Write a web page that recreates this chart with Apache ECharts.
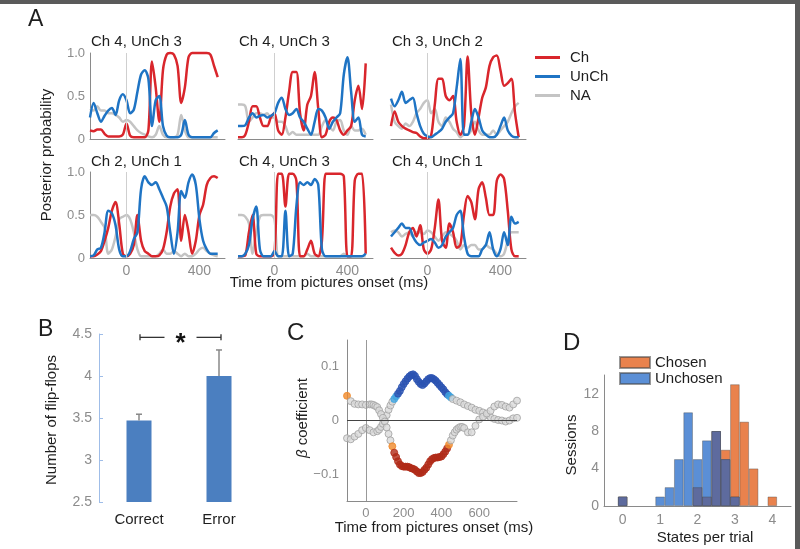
<!DOCTYPE html>
<html><head><meta charset="utf-8">
<script src="https://cdn.jsdelivr.net/npm/echarts@6/dist/echarts.min.js"></script>
<style>html,body{margin:0;padding:0;background:#fff}#c{width:800px;height:549px}</style>
</head><body><div id="c"></div>
<script>
// ---------- Panel A data ----------
const timeA = [-200,-180,-160,-140,-120,-100,-80,-60,-40,-20,0,20,40,60,80,100,120,140,160,180,200,220,240,260,280,300,320,340,360,380,400,420,440,460,480,500];
const titlesA = ['Ch 4, UnCh 3','Ch 4, UnCh 3','Ch 3, UnCh 2','Ch 2, UnCh 1','Ch 4, UnCh 3','Ch 4, UnCh 1'];
const ch1 = [0.10,0.09,0.11,0.11,0.06,0.03,0.03,0.03,0.03,0.05,0.18,0.04,0.02,0.02,0.02,0.02,0.10,0.90,0.60,0.20,0.80,0.98,1.00,0.98,0.85,0.42,0.60,0.95,1.00,1.00,1.00,1.00,1.00,0.98,0.85,0.72];
const un1 = [0.25,0.42,0.30,0.20,0.27,0.33,0.36,0.28,0.45,0.52,0.45,0.30,0.34,0.55,0.75,0.80,0.70,0.15,0.45,0.50,0.15,0.04,0.02,0.02,0.02,0.05,0.22,0.05,0.02,0.02,0.02,0.02,0.02,0.02,0.07,0.10];
const na1 = [0.35,0.33,0.38,0.33,0.33,0.30,0.30,0.28,0.25,0.20,0.22,0.20,0.15,0.10,0.07,0.05,0.03,0.02,0.05,0.15,0.05,0.02,0.02,0.02,0.05,0.28,0.10,0.02,0.02,0.02,0.02,0.02,0.02,0.02,0.02,0.02];
const ch2 = [0.02,0.02,0.05,0.20,0.38,0.38,0.25,0.15,0.15,0.25,0.30,0.10,0.05,0.25,0.55,0.78,0.78,0.30,0.10,0.40,0.50,0.78,0.35,0.02,0.05,0.20,0.25,0.22,0.10,0.05,0.10,0.15,0.45,0.62,0.35,0.88];
const un2 = [0.15,0.15,0.16,0.25,0.30,0.25,0.27,0.28,0.25,0.27,0.30,0.42,0.48,0.35,0.28,0.30,0.35,0.25,0.20,0.12,0.05,0.20,0.35,0.33,0.25,0.12,0.20,0.25,0.30,0.75,0.95,0.55,0.20,0.25,0.05,0.03];
const na2 = [0.40,0.40,0.38,0.20,0.25,0.30,0.30,0.28,0.30,0.25,0.25,0.20,0.20,0.15,0.05,0.08,0.05,0.05,0.05,0.05,0.05,0.05,0.05,0.15,0.22,0.15,0.10,0.20,0.22,0.10,0.05,0.15,0.10,0.10,0.12,0.05];
const ch3 = [0.15,0.32,0.20,0.15,0.12,0.10,0.08,0.07,0.03,0.01,0.01,0.04,0.40,0.70,0.70,0.50,0.45,0.50,0.20,0.05,0.15,0.96,0.30,0.05,0.25,0.48,0.60,0.85,0.95,0.97,0.80,0.62,0.65,0.70,0.30,0.02];
const un3 = [0.47,0.38,0.45,0.55,0.42,0.45,0.48,0.30,0.15,0.06,0.03,0.02,0.05,0.08,0.12,0.20,0.25,0.30,0.60,0.93,0.05,0.05,0.20,0.35,0.25,0.10,0.05,0.02,0.02,0.05,0.15,0.25,0.10,0.04,0.02,0.02];
const na3 = [0.40,0.20,0.15,0.12,0.18,0.15,0.20,0.30,0.35,0.42,0.45,0.30,0.35,0.20,0.15,0.25,0.20,0.12,0.08,0.02,0.05,0.05,0.10,0.20,0.10,0.05,0.05,0.05,0.10,0.05,0.10,0.15,0.20,0.30,0.38,0.42];
const ch4 = [0.02,0.02,0.04,0.08,0.20,0.35,0.55,0.65,0.40,0.05,0.02,0.05,0.15,0.50,0.20,0.08,0.05,0.02,0.02,0.03,0.10,0.30,0.60,0.75,0.80,0.20,0.50,0.30,0.05,0.20,0.50,0.62,0.85,0.93,0.95,0.93];
const un4 = [0.02,0.03,0.10,0.12,0.30,0.55,0.52,0.38,0.10,0.02,0.02,0.08,0.22,0.30,0.80,0.95,0.88,0.85,0.88,0.80,0.70,0.60,0.30,0.05,0.30,0.78,0.70,0.88,0.97,0.85,0.45,0.20,0.10,0.05,0.05,0.05];
const na4 = [0.50,0.50,0.48,0.42,0.35,0.05,0.10,0.25,0.45,0.48,0.50,0.45,0.30,0.10,0.02,0.02,0.02,0.02,0.02,0.05,0.10,0.05,0.05,0.08,0.05,0.02,0.05,0.02,0.02,0.05,0.10,0.12,0.08,0.05,0.03,0.02];
const ch5 = [0.02,0.02,0.03,0.30,0.50,0.05,0.02,0.02,0.02,0.02,0.05,0.98,0.98,0.60,0.98,0.98,0.90,0.02,0.02,0.10,0.20,0.05,0.02,0.20,0.98,0.98,0.98,0.98,0.98,0.95,0.02,0.02,0.90,0.98,0.98,0.05];
const un5 = [0.02,0.02,0.05,0.15,0.45,0.60,0.10,0.02,0.02,0.02,0.08,0.02,0.02,0.55,0.02,0.05,0.60,0.88,0.85,0.88,0.85,0.92,0.85,0.10,0.02,0.02,0.02,0.02,0.02,0.02,0.02,0.02,0.02,0.02,0.02,0.05];
const na5 = [0.50,0.50,0.48,0.40,0.05,0.30,0.48,0.50,0.50,0.50,0.45,0.02,0.02,0.02,0.02,0.02,0.02,0.02,0.02,0.05,0.02,0.02,0.02,0.02,0.02,0.02,0.02,0.02,0.02,0.05,0.02,0.02,0.02,0.02,0.02,0.02];
const ch6 = [0.12,0.06,0.03,0.05,0.15,0.30,0.35,0.25,0.38,0.10,0.05,0.10,0.35,0.68,0.20,0.12,0.40,0.30,0.12,0.15,0.50,0.72,0.65,0.45,0.80,0.88,0.70,0.50,0.50,0.90,0.97,0.92,0.55,0.10,0.02,0.02];
const un6 = [0.25,0.30,0.35,0.40,0.35,0.35,0.25,0.18,0.15,0.18,0.20,0.22,0.18,0.12,0.15,0.25,0.30,0.35,0.50,0.55,0.25,0.05,0.02,0.02,0.02,0.10,0.15,0.30,0.10,0.02,0.10,0.30,0.15,0.48,0.40,0.42];
const na6 = [0.30,0.32,0.30,0.25,0.28,0.30,0.25,0.30,0.30,0.28,0.32,0.30,0.25,0.20,0.25,0.30,0.28,0.25,0.20,0.10,0.15,0.12,0.15,0.15,0.10,0.10,0.15,0.12,0.10,0.05,0.02,0.05,0.20,0.30,0.30,0.30];

// ---------- Panel B data ----------
const catsB = ['Correct','Error'];
const meanB = [3.47, 4.0];
const semB = [0.075, 0.31];
const sigLevelB = 4.46;

// ---------- Panel C data ----------
const timeC1 = [-100,-80,-60,-40,-20,0,20,40,60,70,80,90,100,110,120,130,140,150,160,170,180,190,200,210,220,230,240,250,260,270,280,290,300,310,320,330,340,350,360,370,380,390,400,410,420,430,440,450,460,480,500,520,540,560,580,600,620,640,660,680,700,720,740,760,780,800];
const beta1 = [-0.033,-0.035,-0.030,-0.025,-0.018,-0.014,-0.018,-0.022,-0.020,
  -0.017,-0.012,-0.006,0.000,0.010,0.020,0.028,0.035,0.040,0.045,0.050,0.055,0.062,0.068,0.073,0.078,0.082,0.085,0.086,0.083,0.077,0.072,0.068,0.066,0.069,0.073,0.077,0.079,0.079,0.077,0.074,0.070,0.066,0.062,0.058,0.053,0.049,0.046,0.043,0.040,
  0.037,0.034,0.030,0.027,0.024,0.020,0.018,0.015,0.010,0.006,0.003,0.001,0.000,-0.002,0.000,0.004,0.005];
const sigStrong1 = [[170, 430]];
const sigWeak1 = [[150, 450]];
const timeC2 = [-100,-80,-60,-40,-20,0,20,30,40,50,60,70,80,90,100,110,120,130,140,150,160,170,180,190,200,210,220,230,240,250,260,270,280,290,300,310,320,330,340,350,360,370,380,390,400,410,420,430,440,450,460,470,480,490,500,510,520,540,560,580,600,620,640,660,680,700,720,740,760,780,800];
const beta2 = [0.046,0.036,0.031,0.030,0.030,0.029,0.030,
  0.030,0.029,0.027,0.025,0.019,0.012,0.005,
  -0.002,-0.013,-0.025,-0.037,-0.048,-0.060,-0.068,-0.076,-0.082,-0.085,
  -0.086,-0.086,-0.086,-0.087,-0.089,-0.090,-0.092,-0.095,-0.098,-0.098,
  -0.096,-0.092,-0.088,-0.082,-0.076,-0.072,-0.070,-0.069,-0.069,-0.068,
  -0.067,-0.063,-0.058,-0.052,-0.045,-0.037,-0.028,-0.022,-0.017,-0.014,
  -0.012,-0.012,-0.014,
  -0.022,-0.022,-0.010,0.002,0.007,0.013,0.018,0.026,0.030,0.029,0.026,0.024,0.030,0.037];
const sigStrong2 = [[150, 430]];
const sigWeak2 = [[-100, -100], [135, 445]];

// ---------- Panel D data ----------
const binCenters = [0,0.25,0.5,0.75,1,1.25,1.5,1.75,2,2.25,2.5,2.75,3,3.25,3.5,3.75,4];
const chosenCounts = [1,0,0,0,0,0,0,0,2,1,8,6,13,9,4,0,1];
const unchosenCounts = [1,0,0,0,1,2,5,10,5,7,8,5,1,0,0,0,0];

// ---------- build ----------
const FONT = "'Liberation Sans', Arial, Helvetica, sans-serif";
const TXT = '#1e1e1e', TICK = '#8c8c8c', AXIS = '#8a8a8a';
const RED = '#d9262c', BLUE = '#1f74c4', GRAY = '#c4c4c4';
const chA = [ch1,ch2,ch3,ch4,ch5,ch6], unA = [un1,un2,un3,un4,un5,un6], naA = [na1,na2,na3,na4,na5,na6];
const colLeft = [90, 238, 391], rowTop = [53, 172];

const grid = [], xAxis = [], yAxis = [], series = [], graphic = [];
function txt(text, x, y, size, opt) {
  opt = opt || {};
  return {type:'text', x:x, y:y, silent:true, rotation: opt.rot || 0,
    style: Object.assign({text:text, fontSize:size, fontFamily:FONT, fill: opt.fill || TXT,
      align: opt.align || 'left', verticalAlign: 'middle'}, opt.style || {})};
}

for (let i = 0; i < 6; i++) {
  const r = Math.floor(i / 3), c = i % 3;
  grid.push({left: colLeft[c], top: rowTop[r], width: 135, height: 86});
  xAxis.push({gridIndex:i, type:'value', min:-200, max:540, interval:200,
    axisLine:{show:true, onZero:false, lineStyle:{color:AXIS, width:1}}, axisTick:{show:false}, splitLine:{show:false},
    axisLabel:{show: r === 1, color:TICK, fontSize:14, fontFamily:FONT, margin:6, showMaxLabel:false,
      formatter: v => (v === 0 || v === 400) ? String(v) : ''}});
  yAxis.push({gridIndex:i, type:'value', min:0, max:1, interval:0.5,
    axisLine:{show: c === 0, onZero:false, lineStyle:{color:AXIS, width:1}}, axisTick:{show:false}, splitLine:{show:false},
    axisLabel:{show: c === 0, color:TICK, fontSize:13, fontFamily:FONT, margin:5,
      formatter: v => v === 1 ? '1.0' : (v === 0.5 ? '0.5' : (v === 0 ? '0' : ''))}});
  const mk = (name, arr, color, z, extra) => Object.assign({
    type:'line', name:name, xAxisIndex:i, yAxisIndex:i, data: timeA.map((t, j) => [t, arr[j]]),
    showSymbol:false, smooth:0.3, clip:false, z:z, animation:false,
    lineStyle:{width:2.5, color:color}, itemStyle:{color:color}}, extra || {});
  series.push(mk('NA', naA[i], GRAY, 2, {markLine:{silent:true, symbol:['none','none'], label:{show:false},
    lineStyle:{color:'#cfcfcf', width:1, type:'solid'}, data:[{xAxis:0}], animation:false}}));
  series.push(mk('Ch', chA[i], RED, 3));
  series.push(mk('UnCh', unA[i], BLUE, 4));
  graphic.push(txt(titlesA[i], colLeft[c] + 1, r === 0 ? 42 : 162, 15));
}

// Panel B (grid 6)
grid.push({left: 99, top: 334, width: 160, height: 168});
xAxis.push({gridIndex:6, type:'category', data: catsB, axisLine:{show:false}, axisTick:{show:false},
  axisLabel:{color:TXT, fontSize:15, fontFamily:FONT, margin:10}});
yAxis.push({gridIndex:6, type:'value', min:2.5, max:4.5, interval:0.5, splitLine:{show:false},
  axisLine:{show:true, onZero:false, lineStyle:{color:'#9fbde8', width:1}}, axisTick:{show:true, inside:true, length:4, lineStyle:{color:'#9fbde8'}},
  axisLabel:{color:TICK, fontSize:14, fontFamily:FONT, margin:7}});
series.push({type:'bar', xAxisIndex:6, yAxisIndex:6, data: meanB, barWidth:25, animation:false,
  itemStyle:{color:'#4b7fc0'}});
series.push({type:'custom', xAxisIndex:6, yAxisIndex:6, z:5, animation:false,
  data: meanB.map((m, i) => [i, m, m + semB[i]]),
  renderItem: (p, api) => {
    const b = api.coord([api.value(0), api.value(1)]);
    const t = api.coord([api.value(0), api.value(2)]);
    return {type:'group', children:[
      {type:'line', shape:{x1:b[0], y1:b[1], x2:b[0], y2:t[1]}, style:{stroke:'#888', lineWidth:1.5}},
      {type:'line', shape:{x1:b[0]-3, y1:t[1], x2:b[0]+3, y2:t[1]}, style:{stroke:'#888', lineWidth:1.5}}]};
  }});
series.push({type:'custom', xAxisIndex:6, yAxisIndex:6, z:5, animation:false,
  data: [[0, 1, sigLevelB]],
  renderItem: (p, api) => {
    const a = api.coord([api.value(0), api.value(2)]);
    const b = api.coord([api.value(1), api.value(2)]);
    const x0 = a[0] + 1, x1 = b[0] + 2, y = a[1], mid = (x0 + x1) / 2;
    const st = {stroke:'#333', lineWidth:1.3};
    return {type:'group', children:[
      {type:'line', shape:{x1:x0, y1:y, x2:mid-16, y2:y}, style:st},
      {type:'line', shape:{x1:mid+16, y1:y, x2:x1, y2:y}, style:st},
      {type:'line', shape:{x1:x0, y1:y-3, x2:x0, y2:y+3}, style:st},
      {type:'line', shape:{x1:x1, y1:y-3, x2:x1, y2:y+3}, style:st},
      {type:'text', x:mid, y:y+6, style:{text:'*', fontSize:26, fontWeight:'bold', fontFamily:FONT, fill:'#111', align:'center', verticalAlign:'middle'}}]};
  }});

// Panel C (grid 7)
grid.push({left: 347, top: 340, width: 170, height: 161});
xAxis.push({gridIndex:7, type:'value', min:-100, max:800, interval:100,
  axisLine:{show:true, onZero:false, lineStyle:{color:AXIS}}, axisTick:{show:false}, splitLine:{show:false},
  axisLabel:{color:TICK, fontSize:13, fontFamily:FONT, margin:6,
    formatter: v => (v >= 0 && v <= 600 && v % 200 === 0) ? String(v) : ''}});
yAxis.push({gridIndex:7, type:'value', min:-0.15, max:0.15, interval:0.05,
  axisLine:{show:true, onZero:false, lineStyle:{color:AXIS}}, axisTick:{show:false}, splitLine:{show:false},
  axisLabel:{color:TICK, fontSize:13, fontFamily:FONT, margin:8,
    formatter: v => { const r = Math.round(v * 100); return r === 10 ? '0.1' : r === 0 ? '0' : r === -10 ? '\u22120.1' : ''; }}});
const palUp = ['#d9d9d9', '#3fa4e0', '#2a52b2'];
const palDn = ['#d9d9d9', '#f08a2a', '#b02a18'];
const inWin = (t, wins) => wins.some(w => t >= w[0] && t <= w[1]);
function betaData(times, vals, strong, weak, pal) {
  return times.map((t, i) => {
    const lvl = inWin(t, strong) ? 2 : (inWin(t, weak) ? 1 : 0);
    return {value:[t, vals[i]], itemStyle: lvl === 0
      ? {color: pal[0], borderColor:'#a0a0a0', borderWidth:1}
      : {color: pal[lvl], borderColor: pal[lvl], borderWidth:1}};
  });
}
series.push({type:'scatter', xAxisIndex:7, yAxisIndex:7, symbol:'circle', symbolSize:7, animation:false, z:3,
  data: betaData(timeC1, beta1, sigStrong1, sigWeak1, palUp),
  markLine:{silent:true, symbol:['none','none'], label:{show:false}, animation:false,
    data:[{xAxis:0, lineStyle:{color:'#999', width:1, type:'solid'}}, {yAxis:0, lineStyle:{color:'#444', width:1.2, type:'solid'}}]}});
series.push({type:'scatter', xAxisIndex:7, yAxisIndex:7, symbol:'circle', symbolSize:7, animation:false, z:3,
  data: betaData(timeC2, beta2, sigStrong2, sigWeak2, palDn)});

// Panel D (grid 8)
const gD = {left: 604, top: 375, width: 187, height: 131};
grid.push(gD);
xAxis.push({gridIndex:8, type:'value', min:-0.5, max:4.5, interval:0.5,
  axisLine:{show:true, onZero:false, lineStyle:{color:AXIS}}, axisTick:{show:false}, splitLine:{show:false},
  axisLabel:{color:TICK, fontSize:14, fontFamily:FONT, margin:7, formatter: v => Number.isInteger(v) ? String(v) : ''}});
yAxis.push({gridIndex:8, type:'value', min:0, max:14, interval:4,
  axisLine:{show:true, onZero:false, lineStyle:{color:AXIS}}, axisTick:{show:false}, splitLine:{show:false},
  axisLabel:{color:TICK, fontSize:14, fontFamily:FONT, margin:5, showMaxLabel:false}});
const binW = gD.width / 5 * 0.25;
const histData = counts => binCenters.map((x, i) => [x, counts[i]]).filter(d => d[1] > 0);
const bord = {borderColor:'rgba(70,70,70,0.55)', borderWidth:0.7};
series.push({type:'bar', name:'Chosen', xAxisIndex:8, yAxisIndex:8, barWidth:binW, barGap:'-100%', animation:false,
  data: histData(chosenCounts), itemStyle:Object.assign({color:'#e9824d'}, bord)});
series.push({type:'bar', name:'Unchosen', xAxisIndex:8, yAxisIndex:8, barWidth:binW, barGap:'-100%', animation:false,
  data: histData(unchosenCounts), itemStyle:Object.assign({color:'#5b8fd6'}, bord)});
series.push({type:'bar', name:'Both', xAxisIndex:8, yAxisIndex:8, barWidth:binW, barGap:'-100%', animation:false,
  data: histData(binCenters.map((x, i) => Math.min(chosenCounts[i], unchosenCounts[i]))),
  itemStyle:Object.assign({color:'#5e6b9e'}, bord)});

// texts
graphic.push(txt('A', 28, 20, 23));
graphic.push(txt('B', 38, 330, 23));
graphic.push(txt('C', 287, 333, 24));
graphic.push(txt('D', 563, 343, 24));
graphic.push(txt('Posterior probability', 47, 155, 15, {align:'center', rot:Math.PI/2}));
graphic.push(txt('Time from pictures onset (ms)', 329, 283, 15, {align:'center'}));
graphic.push(txt('Number of flip-flops', 52, 420, 15, {align:'center', rot:Math.PI/2}));
graphic.push(txt('{i|\u03b2} coefficient', 303, 418, 15, {align:'center', rot:Math.PI/2,
  style:{rich:{i:{fontStyle:'italic', fontSize:15, fontFamily:FONT, fill:TXT}}}}));
graphic.push(txt('Time from pictures onset (ms)', 434, 528, 15, {align:'center'}));
graphic.push(txt('Sessions', 572, 445, 15, {align:'center', rot:Math.PI/2}));
graphic.push(txt('States per trial', 705, 538, 15, {align:'center'}));
// frame
graphic.push({type:'rect', shape:{x:0, y:0, width:800, height:4}, style:{fill:'#5a5a5a'}, silent:true});
graphic.push({type:'rect', shape:{x:795, y:0, width:5, height:549}, style:{fill:'#5a5a5a'}, silent:true});

const chart = echarts.init(document.getElementById('c'), null, {renderer:'canvas'});
chart.setOption({
  animation:false,
  textStyle:{fontFamily:FONT},
  grid, xAxis, yAxis, series, graphic,
  legend:[
    {data:['Ch','UnCh','NA'], orient:'vertical', left:530, top:44, icon:'rect', itemWidth:25, itemHeight:3, itemGap:2,
     selectedMode:false, textStyle:{fontSize:15, color:TXT, fontFamily:FONT, lineHeight:17, padding:[0,0,0,5]}},
    {data:['Chosen','Unchosen'], orient:'vertical', left:614, top:350, icon:'rect', itemWidth:30, itemHeight:11, itemGap:1,
     selectedMode:false, textStyle:{fontSize:15, color:TXT, fontFamily:FONT, lineHeight:15}}
  ]
});
</script></body></html>
